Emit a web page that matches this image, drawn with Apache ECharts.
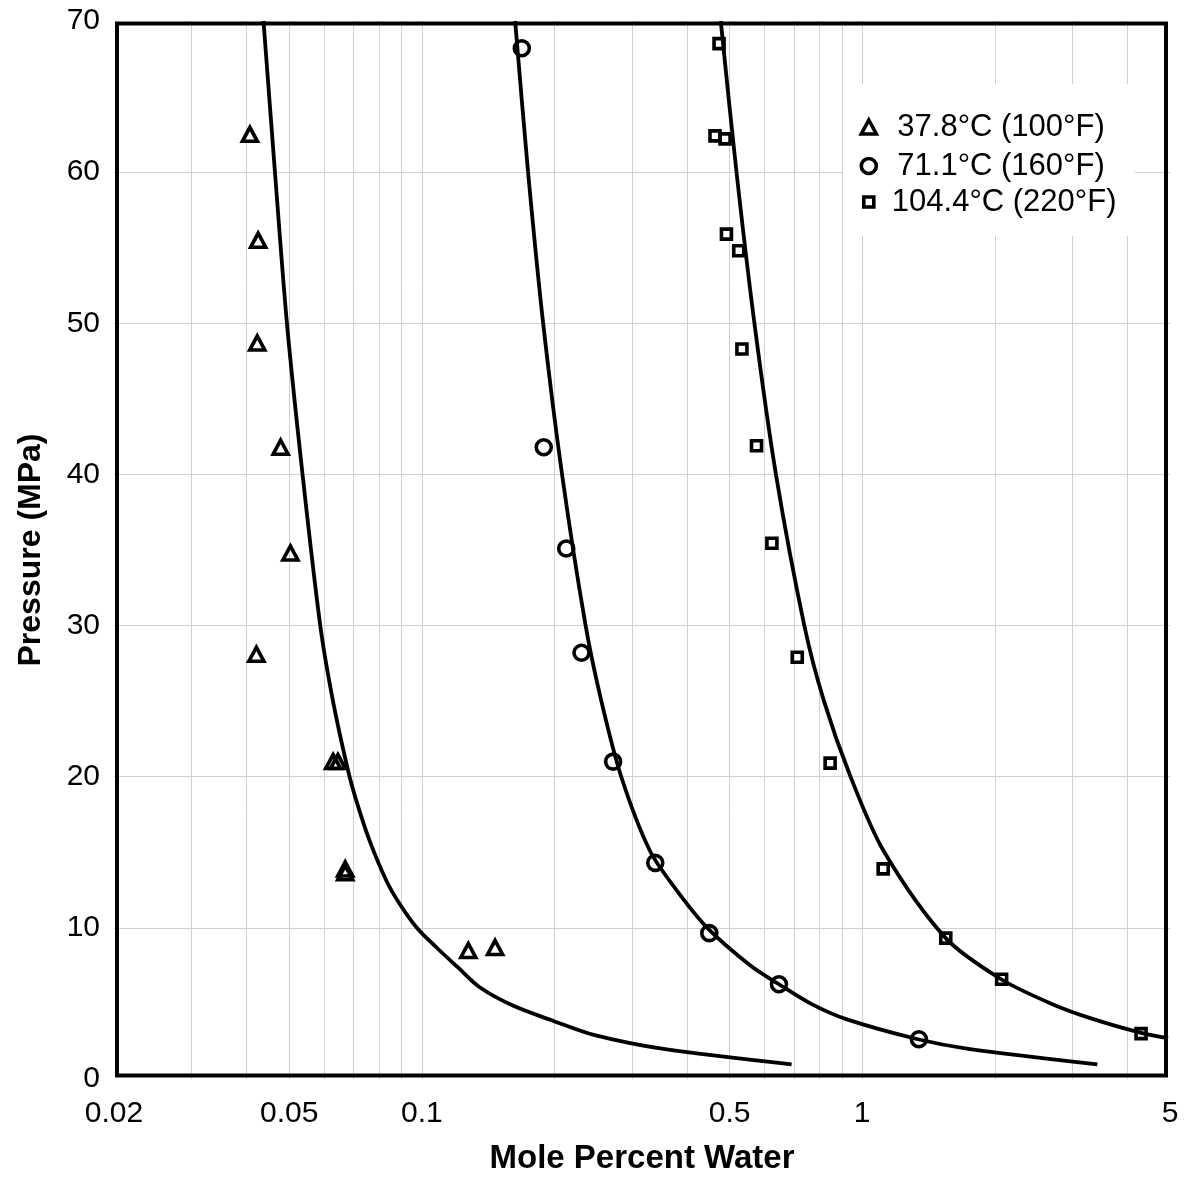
<!DOCTYPE html>
<html><head><meta charset="utf-8">
<script src="https://cdn.jsdelivr.net/npm/echarts@6/dist/echarts.min.js"></script>
<style>html,body{margin:0;padding:0;background:#fff}#c{width:1186px;height:1178px}</style>
</head><body><div id="c"></div>
<script>
// ---- data ----
const seriesNames = ['37.8°C (100°F)', '71.1°C (160°F)', '104.4°C (220°F)'];
const xTitle = 'Mole Percent Water';
const yTitle = 'Pressure (MPa)';
const xLabelValues = [0.02, 0.05, 0.1, 0.5, 1, 5];
const xGridValues = [0.03, 0.04, 0.05, 0.06, 0.07, 0.08, 0.09, 0.1, 0.2, 0.3, 0.4, 0.5, 0.6, 0.7, 0.8, 0.9, 1, 2, 3, 4];
const yLabelValues = [0, 10, 20, 30, 40, 50, 60, 70];
const yGridValues = [10, 20, 30, 40, 50, 60];

// measured points [mole % water, pressure MPa]
const pts37 = [[0.0407,62.5],[0.0425,55.5],[0.0423,48.7],[0.0478,41.8],[0.0503,34.8],[0.0421,28.1],[0.0629,21.0],[0.0645,21.0],[0.0670,13.9],[0.0670,13.65],[0.1275,8.5],[0.1467,8.7]];
const pts71 = [[0.1687,68.2],[0.1892,41.8],[0.2128,35.1],[0.2305,28.2],[0.2719,21.0],[0.3389,14.3],[0.4496,9.65],[0.6471,6.27],[1.345,2.63]];
const pts104 = [[0.4731,68.5],[0.4632,62.4],[0.4882,62.2],[0.4918,55.9],[0.5244,54.8],[0.5332,48.3],[0.5755,41.9],[0.6237,35.45],[0.7121,27.9],[0.8456,20.9],[1.116,13.9],[1.548,9.32],[2.073,6.6],[4.298,3.0]];

// model curves
const curve37P = [70, 60, 50, 40, 30, 25.05, 20.41, 18.42, 15.77, 13.12, 11.58, 10.03, 8.70, 7.38, 6.05, 4.84, 3.84, 2.92, 1.97, 0.97];
const curve37X = [0.0437, 0.0464, 0.0494, 0.0536, 0.0588, 0.0628, 0.0680, 0.0710, 0.0761, 0.0831, 0.0891, 0.0973, 0.1080, 0.1208, 0.1356, 0.1614, 0.1991, 0.2456, 0.3569, 0.6913];
const curve71P = [70, 60, 50, 40, 30, 25, 20, 15.1, 12.5, 10, 7.49, 6.27, 4.95, 3.96, 2.63, 2.0, 0.97];
const curve71X = [0.1629, 0.1743, 0.1886, 0.2082, 0.2355, 0.2557, 0.2837, 0.3296, 0.3787, 0.445, 0.5583, 0.6471, 0.768, 0.9196, 1.338, 1.742, 3.42];
const curve104P = [70, 60, 50, 40, 30, 25, 20, 15.1, 9.32, 6.6, 4.97, 3.96, 3.07, 2.7];
const curve104X = [0.4773, 0.5183, 0.5692, 0.637, 0.7389, 0.8189, 0.941, 1.118, 1.548, 2.069, 2.695, 3.35, 4.28, 4.95];

// ---- chart ----
const FONT = '"Liberation Sans", Arial, sans-serif';
const chart = echarts.init(document.getElementById('c'), null, {renderer: 'canvas'});
const zip = (xs, ys) => xs.map((x, i) => [x, ys[i]]);
const mk = {color: 'rgba(0,0,0,0)', borderColor: '#000', borderWidth: 3.6, opacity: 1};
const lineS = (name, data) => ({
  name, type: 'line', data, showSymbol: false, smooth: 0.3, silent: true,
  lineStyle: {color: '#000', width: 3.8}, itemStyle: {color: '#000'}, z: 2, clip: true
});
const legendBase = (name, icon, w, h, top, padLeft) => ({
  data: [{name, icon}], left: 867 - w / 2, top, orient: 'vertical',
  itemWidth: w, itemHeight: h, padding: 0, selectedMode: false, z: 6,
  itemStyle: {color: 'rgba(0,0,0,0)', borderColor: '#000', borderWidth: 3.6, opacity: 1},
  textStyle: {fontFamily: FONT, fontSize: 31, color: '#000', lineHeight: 34, padding: [0, 0, 0, padLeft]}
});

chart.setOption({
  animation: false,
  backgroundColor: '#fff',
  grid: [
    {left: 114, top: 21, width: 1056, height: 1058, show: false, containLabel: false, outerBoundsMode: 'none'},
    {left: 117, top: 23.5, width: 1049, height: 1052, show: true, borderColor: '#000', borderWidth: 4, backgroundColor: 'transparent', z: 5, containLabel: false, outerBoundsMode: 'none'}
  ],
  xAxis: [{
    type: 'log', logBase: 10, min: 0.02, max: 5, gridIndex: 0,
    name: xTitle, nameLocation: 'middle', nameGap: 63,
    nameTextStyle: {fontFamily: FONT, fontSize: 33, fontWeight: 'bold', color: '#000'},
    axisLine: {show: false},
    axisTick: {show: false, customValues: xGridValues},
    axisLabel: {customValues: xLabelValues, fontFamily: FONT, fontSize: 30, color: '#000', margin: 20,
      formatter: v => String(+(+v).toPrecision(6))},
    splitLine: {show: true, lineStyle: {color: '#d0d0d0', width: 1}},
    minorSplitLine: {show: false}
  }, {type: 'value', gridIndex: 1, show: false, min: 0, max: 1}],
  yAxis: [{
    type: 'value', min: 0, max: 70, interval: 10, gridIndex: 0,
    name: yTitle, nameLocation: 'middle', nameGap: 67, nameRotate: 90,
    nameTextStyle: {fontFamily: FONT, fontSize: 32, fontWeight: 'bold', color: '#000'},
    axisLine: {show: false},
    axisTick: {show: false, customValues: yGridValues},
    axisLabel: {customValues: yLabelValues, fontFamily: FONT, fontSize: 30, color: '#000', margin: 14},
    splitLine: {show: true, lineStyle: {color: '#d0d0d0', width: 1}}
  }, {type: 'value', gridIndex: 1, show: false, min: 0, max: 1}],
  graphic: [{type: 'rect', left: 843, top: 84, shape: {width: 292, height: 152}, style: {fill: '#fff'}, z: 3, silent: true}],
  legend: [
    legendBase(seriesNames[0], 'triangle', 15, 14, 110, 16),
    legendBase(seriesNames[1], 'circle', 15, 15, 149, 16),
    legendBase(seriesNames[2], 'rect', 10, 10, 185, 13)
  ],
  series: [
    lineS('fit37', zip(curve37X, curve37P)),
    lineS('fit71', zip(curve71X, curve71P)),
    lineS('fit104', zip(curve104X, curve104P)),
    {name: seriesNames[0], type: 'scatter', data: pts37, symbol: 'triangle', symbolSize: [15, 14], itemStyle: mk, z: 3},
    {name: seriesNames[1], type: 'scatter', data: pts71, symbol: 'circle', symbolSize: 15, itemStyle: mk, z: 3},
    {name: seriesNames[2], type: 'scatter', data: pts104, symbol: 'rect', symbolSize: 10, itemStyle: mk, z: 3}
  ]
});
</script>
</body></html>
